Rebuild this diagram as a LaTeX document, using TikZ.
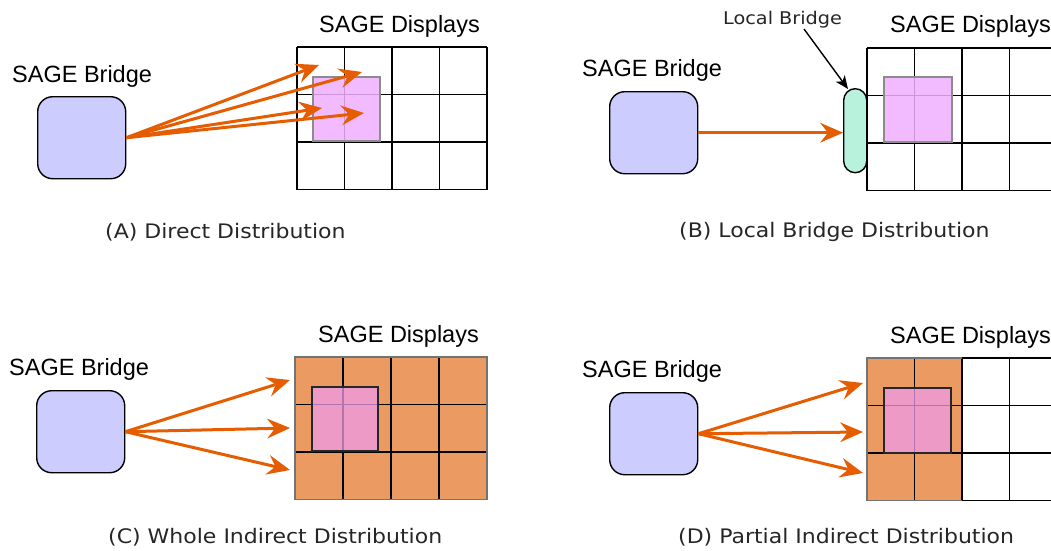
\documentclass[tikz,border=0pt]{standalone}
\usepackage{fontspec}
\setmainfont{Liberation Sans}
\newfontfamily\capfont[FakeStretch=1.1]{DejaVu Sans}
\usetikzlibrary{arrows.meta}
\definecolor{bridgeblue}{HTML}{CCCCFF}
\definecolor{flow}{HTML}{E65C00}
\definecolor{tileorange}{HTML}{EB9A62}
\definecolor{winpink}{HTML}{F0B0FF}
\definecolor{winpinkdark}{HTML}{EE9BEA}
\definecolor{localgreen}{HTML}{B8F2DC}

\begin{document}
\begin{tikzpicture}[x=1pt,y=-1pt,
  bridge/.style={draw=black, line width=1.4pt, fill=bridgeblue, rounded corners=15pt,
    minimum width=88pt, minimum height=82pt, inner sep=0pt, anchor=north west},
  flowtip/.tip={Stealth[length=23pt,width=20pt,inset=8pt,line width=0pt]},
  flowarrow/.style={draw=flow, line width=3pt, -flowtip},
  label/.style={font=\fontsize{23.5}{27}\selectfont, anchor=base west, inner sep=0pt},
  caption/.style={font=\capfont\fontsize{20}{24}\selectfont, text=black!85, anchor=base west, inner sep=0pt},
  tile/.style={line width=1.5pt, draw=black},
  window/.style={fill=winpink, fill opacity=0.85, draw=black!45, line width=1.2pt},
  windowhot/.style={fill=winpinkdark, fill opacity=0.75, draw=black!85, line width=1.4pt},
]
\useasboundingbox (0,0) rectangle (1051,550);
\fill[white] (0,0) rectangle (1051,550);

% ---------- (A) Direct Distribution ----------
\foreach \i in {0,...,4} \draw[tile] (297+\i*47.5,47) -- ++(0,142.5);
\foreach \j in {0,...,3} \draw[tile] (297,47+\j*47.5) -- ++(190,0);
\draw[window] (313,77) rectangle (380,141);
\node[bridge] (bA) at (37,96) {};
\node[label] (bridgeA) at (12,82) {SAGE Bridge};
\node[label] (dispA) at (319,32) {SAGE Displays};
\coordinate (tA1) at (319,65);
\coordinate (tA2) at (362,72);
\coordinate (tA3) at (322,108);
\coordinate (tA4) at (364,113);
\foreach \t in {tA1,tA2,tA3,tA4} \draw[flowarrow] (bA.east) -- (\t);
\node[caption] (capA) at (105,238) {(A) Direct Distribution};

% ---------- (B) Local Bridge Distribution ----------
\foreach \i in {0,...,3} \draw[tile] (867+\i*47.5,48) -- ++(0,142.5);
\foreach \j in {0,...,3} \draw[tile] (867,48+\j*47.5) -- ++(184,0);
\draw[window] (884,77) rectangle (952,142);
\node[bridge] (bB) at (609,91) {};
\node[draw=black, line width=1.4pt, fill=localgreen, rounded corners=11.5pt,
  minimum width=23pt, minimum height=84pt, inner sep=0pt, anchor=north west] (lb) at (843,88) {};
\node[label] (bridgeB) at (582,76) {SAGE Bridge};
\node[label] (dispB) at (890,32) {SAGE Displays};
\node[font=\capfont\fontsize{17.5}{20}\selectfont, text=black!85, anchor=base west, inner sep=0pt]
  (lbl) at (723,24) {Local Bridge};
\coordinate (lbtail) at (804,29);
\coordinate (lbhead) at (848,89);
\draw[line width=1.4pt, -{Stealth[length=13pt,width=11pt,inset=3.5pt]}] (lbtail) -- (lbhead);
\draw[flowarrow] (bB.east) -- (bB.east -| lb.west);
\node[caption] (capB) at (679,237) {(B) Local Bridge Distribution};

% ---------- (C) Whole Indirect Distribution ----------
\fill[tileorange] (295,357) rectangle (487,499.5);
\foreach \i in {1,...,3} \draw[tile] (295+\i*48,357) -- ++(0,142.5);
\foreach \j in {1,2} \draw[tile] (295,357+\j*47.5) -- ++(192,0);
\draw[line width=1.5pt, draw=black!55] (295,357) rectangle (487,499.5);
\draw[windowhot] (312,387) rectangle (378,451);
\node[bridge] (bC) at (36,390) {};
\node[label] (bridgeC) at (9,375) {SAGE Bridge};
\node[label] (dispC) at (318,342) {SAGE Displays};
\coordinate (tC1) at (290,380);
\coordinate (tC2) at (290,428);
\coordinate (tC3) at (290,470);
\foreach \t in {tC1,tC2,tC3} \draw[flowarrow] (bC.east) -- (\t);
\node[caption] (capC) at (108,543) {(C) Whole Indirect Distribution};

% ---------- (D) Partial Indirect Distribution ----------
\fill[tileorange] (867,358) rectangle (962,500.5);
\foreach \i in {0,...,3} \draw[tile] (867+\i*47.5,358) -- ++(0,142.5);
\foreach \j in {0,...,3} \draw[tile] (867,358+\j*47.5) -- ++(184,0);
\draw[line width=1.5pt, draw=black!55] (962,358) -- (867,358) -- (867,500.5) -- (962,500.5);
\draw[windowhot] (884,388) rectangle (951,453);
\node[bridge] (bD) at (609,392) {};
\node[label] (bridgeD) at (582,377) {SAGE Bridge};
\node[label] (dispD) at (890,343) {SAGE Displays};
\coordinate (tD1) at (863,383);
\coordinate (tD2) at (863,432);
\coordinate (tD3) at (863,473);
\foreach \t in {tD1,tD2,tD3} \draw[flowarrow] (bD.east) -- (\t);
\node[caption] (capD) at (678,543) {(D) Partial Indirect Distribution};
\end{tikzpicture}
\end{document}
